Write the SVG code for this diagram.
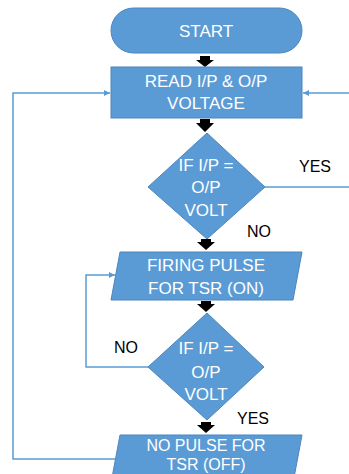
<svg xmlns="http://www.w3.org/2000/svg" width="349" height="474" viewBox="0 0 349 474">
<defs>
<style>
.shape{fill:#5B9BD5;stroke:#4A86BE;stroke-width:1}
.wt{fill:#FFFFFF;font-family:"Liberation Sans",Arial,sans-serif;font-size:17px;text-anchor:middle}
.sm{font-size:16px}
.bt{fill:#000000;font-family:"Liberation Sans",Arial,sans-serif;font-size:16px;text-anchor:middle}
.conn{fill:none;stroke:#5B9BD5;stroke-width:1.5}
.blk{fill:#000000}
</style>
<marker id="ah" viewBox="0 0 10 10" refX="10" refY="5" markerWidth="6" markerHeight="6" orient="auto" markerUnits="userSpaceOnUse">
<path d="M0,0 L10,5 L0,10 z" fill="#5B9BD5"/>
</marker>
</defs>
<rect width="349" height="474" fill="#FFFFFF"/>
<g id="connectors">
<path class="blk" d="M200,56 h10 v4 h4 l-9,7 l-9,-7 h4 z"/>
<path class="blk" d="M200,119 h10 v4 h4 l-9,9 l-9,-9 h4 z"/>
<path class="blk" d="M201,239 h10 v3 h4 l-9,8 l-9,-8 h4 z"/>
<path class="blk" d="M201,301 h10 v3 h4 l-9,8 l-9,-8 h4 z"/>
<path class="blk" d="M201,422 h10 v3 h4 l-9,8 l-9,-8 h4 z"/>
<polyline class="conn" points="265,187 352,187 352,93 303,93" marker-end="url(#ah)"/>
<polyline class="conn" points="115,459 13,459 13,93 110,93" marker-end="url(#ah)"/>
<polyline class="conn" points="148,367 86,367 86,275 115,275" marker-end="url(#ah)"/>
<text class="bt" x="315" y="172">YES</text>
<text class="bt" x="259" y="237">NO</text>
<text class="bt" x="126" y="353">NO</text>
<text class="bt" x="253" y="424">YES</text>
</g>
<g id="start">
<rect class="shape" x="111" y="8" width="191" height="45" rx="22.5" ry="22.5"/>
<text class="wt" x="206" y="37">START</text>
</g>
<g id="read">
<rect class="shape" x="111" y="67" width="191" height="51"/>
<text class="wt" x="206" y="87">READ I/P &amp; O/P</text>
<text class="wt" x="206" y="109">VOLTAGE</text>
</g>
<g id="decision1">
<polygon class="shape" points="207,133 265,187 207,239 148,187"/>
<text class="wt" x="206" y="171">IF I/P =</text>
<text class="wt" x="206" y="193">O/P</text>
<text class="wt" x="206" y="216">VOLT</text>
</g>
<g id="firing">
<polygon class="shape" points="120,252 302,252 293,300 111,300"/>
<text class="wt" x="206" y="271">FIRING PULSE</text>
<text class="wt" x="206" y="294">FOR TSR (ON)</text>
</g>
<g id="decision2">
<polygon class="shape" points="207,313 264,367 207,420 148,367"/>
<text class="wt" x="206" y="354">IF I/P =</text>
<text class="wt" x="206" y="378">O/P</text>
<text class="wt" x="206" y="400">VOLT</text>
</g>
<g id="nopulse">
<polygon class="shape" points="120,435 302,435 293,483 111,483"/>
<text class="wt sm" x="206" y="451">NO PULSE FOR</text>
<text class="wt sm" x="206" y="470">TSR (OFF)</text>
</g>
</svg>
